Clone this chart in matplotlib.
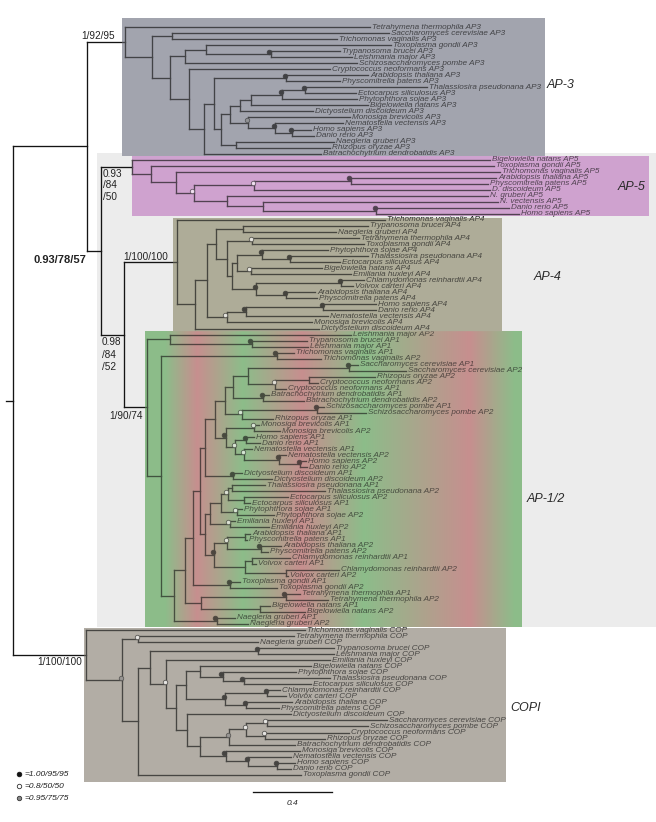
import numpy as np
import matplotlib
matplotlib.use("Agg")
import matplotlib.pyplot as plt
from matplotlib import font_manager, transforms
from matplotlib.collections import LineCollection
from matplotlib.patches import Rectangle

# ------------------------------------------------------------------ data
# clade trees (Newick, branch lengths in substitutions/site;
# internal node codes: K = 1.00/95/95, W = 0.8/50/50, G = 0.95/75/75)
AP3 = ("(Tetrahymena_thermophila_AP3:1.241,"
       "((Saccharomyces_cerevisiae_AP3:1.099,Trichomonas_vaginalis_AP3:0.835):0.101,"
       "(((Toxoplasma_gondii_AP3:0.937,(Trypanosoma_brucei_AP3:0.349,Leishmania_major_AP3:0.410)K:0.329):0.106,"
       "Schizosaccharomyces_pombe_AP3:0.871):0.076,"
       "(Cryptococcus_neoformans_AP3:0.714,"
       "(((Arabidopsis_thaliana_AP3:0.415,Physcomitrella_patens_AP3:0.273)K:0.365,"
       "((((((Thalassiosira_pseudonana_AP3:0.618,Ectocarpus_siliculosus_AP3:0.258)K:0.116,"
       "Phytophthora_sojae_AP3:0.380)K:0.157,Bigelowiella_natans_AP3:0.592):0.056,"
       "Dictyostelium_discoideum_AP3:0.370):0.051,"
       "(Monosiga_brevicolis_AP3:0.516,(Nematostella_vectensis_AP3:0.344,"
       "(Homo_sapiens_AP3:0.096,Danio_rerio_AP3:0.111)K:0.086)K:0.137)G:0.091):0.046,"
       "(Naegleria_gruberi_AP3:0.494,Rhizopus_oryzae_AP3:0.473):0.078):0.035):0.051,"
       "Batrachochytrium_dendrobatidis_AP3:0.595):0.076):0.096):0.091):0.137)|ap3")

AP5 = ("(Bigelowiella_natans_AP5:1.808,(Toxoplasma_gondii_AP5:1.735,(Trichomonas_vaginalis_AP5:1.643,"
       "(((Arabidopsis_thaliana_AP5:0.735,Physcomitrella_patens_AP5:0.693)K:0.489,D._discoideum_AP5:1.191)W:0.308,"
       "(N._gruberi_AP5:1.319,(N._vectensis_AP5:1.192,(Danio_rerio_AP5:0.671,Homo_sapiens_AP5:0.724)K:0.574):0.180):0.171)W:0.090"
       "):0.123):0.096)|ap5")

AP4 = ("(Trichomonas_vaginalis_AP4:1.053,"
       "((((Trypanosoma_brucei_AP4:0.633,Naegleria_gruberi_AP4:0.471):0.137,"
       "((Tetrahymena_thermophila_AP4:0.542,Toxoplasma_gondii_AP4:0.565)W:0.127,"
       "(((Phytophthora_sojae_AP4:0.334,(Thalassiosira_pseudonana_AP4:0.395,Ectocarpus_siliculosus_AP4:0.253)K:0.142)K:0.125,"
       "(Bigelowiella_natans_AP4:0.359,Emiliania_huxleyi_AP4:0.506)W:0.069):0.027,"
       "((Chlamydomonas_reinhardtii_AP4:0.114,Volvox_carteri_AP4:0.061)K:0.430,"
       "(Arabidopsis_thaliana_AP4:0.147,Physcomitrella_patens_AP4:0.157)K:0.152)K:0.122):0.025):0.056):0.046,"
       "(((Homo_sapiens_AP4:0.266,Danio_rerio_AP4:0.266)K:0.393,Nematostella_vectensis_AP4:0.416)K:0.095,"
       "Monosiga_brevicolis_AP4:0.430)W:0.101):0.063,"
       "Dictyostelium_discoideum_AP4:0.630):0.091)|ap4")

AP12 = ("((Leishmania_major_AP2:0.916,(Trypanosoma_brucei_AP1:0.278,Leishmania_major_AP1:0.284)K:0.415):0.116,"
        "((Trichomonas_vaginalis_AP1:0.086,Trichomonas_vaginalis_AP2:0.223)K:0.587,"
        "((((((((("
        "(Saccharomyces_cerevisiae_AP1:0.046,Saccharomyces_cerevisiae_AP2:0.289)K:0.511,"
        "((Rhizopus_oryzae_AP2:0.334,Cryptococcus_neoformans_AP2:0.046):0.172,Cryptococcus_neoformans_AP1:0.056)W:0.137):0.076,"
        "(Batrachochytrium_dendrobatidis_AP1:0.030,Batrachochytrium_dendrobatidis_AP2:0.208)K:0.152):0.041,"
        "((Schizosaccharomyces_pombe_AP1:0.035,Schizosaccharomyces_pombe_AP2:0.248)K:0.382,Rhizopus_oryzae_AP1:0.159)W:0.084):0.051,"
        "((Monosiga_brevicolis_AP1:0.025,Monosiga_brevicolis_AP2:0.132)W:0.144,"
        "((Homo_sapiens_AP1:0.041,Danio_rerio_AP1:0.071)K:0.056,"
        "(Nematostella_vectensis_AP1:0.041,(Nematostella_vectensis_AP2:0.035,(Homo_sapiens_AP2:0.030,Danio_rerio_AP2:0.035)K:0.106)K:0.177)W:0.046)W:0.048)K:0.054):0.051,"
        "(Dictyostelium_discoideum_AP1:0.046,Dictyostelium_discoideum_AP2:0.197)K:0.142):0.027,"
        "(((((Thalassiosira_pseudonana_AP1:0.167,Thalassiosira_pseudonana_AP2:0.471):0.020,"
        "(Ectocarpus_siliculosus_AP2:0.223,Ectocarpus_siliculosus_AP1:0.030):0.081)W:0.037,"
        "(Phytophthora_sojae_AP1:0.025,Phytophthora_sojae_AP2:0.187)W:0.083):0.054,"
        "(Emiliania_huxleyi_AP1:0.025,Emiliania_huxleyi_AP2:0.197)W:0.101):0.025,"
        "(((Arabidopsis_thaliana_AP1:0.025,Physcomitrella_patens_AP1:0.010):0.091,"
        "(Arabidopsis_thaliana_AP2:0.104,Physcomitrella_patens_AP2:0.038)K:0.170)W:0.066,"
        "((Chlamydomonas_reinhardtii_AP1:0.192,Volvox_carteri_AP1:0.020):0.035,"
        "(Chlamydomonas_reinhardtii_AP2:0.268,Volvox_carteri_AP2:0.010):0.208):0.157)K:0.046):0.027):0.033,"
        "(Toxoplasma_gondii_AP1:0.051,Toxoplasma_gondii_AP2:0.238)K:0.187):0.041,"
        "((Tetrahymena_thermophila_AP1:0.071,Tetrahymena_thermophila_AP2:0.213)K:0.430,"
        "(Bigelowiella_natans_AP1:0.048,Bigelowiella_natans_AP2:0.225):0.301):0.081):0.056,"
        "(Naegleria_gruberi_AP1:0.092,Naegleria_gruberi_AP2:0.158)K:0.217):0.066):0.071)|ap12")

COPI = ("(Trichomonas_vaginalis_COP:1.109,((Tetrahymena_thermophila_COP:0.790,Naegleria_gruberi_COP:0.610)W:0.081,"
        "(((Trypanosoma_brucei_COP:0.385,Leishmania_major_COP:0.385)K:0.545,(Emiliania_huxleyi_COP:0.830,"
        "(((Bigelowiella_natans_COP:0.564,(Phytophthora_sojae_COP:0.371,(Thalassiosira_pseudonana_COP:0.437,"
        "Ectocarpus_siliculosus_COP:0.341)K:0.106)K:0.117):0.069,((Chlamydomonas_reinhardtii_COP:0.066,"
        "Volvox_carteri_COP:0.096)K:0.213,(Arabidopsis_thaliana_COP:0.233,Physcomitrella_patens_COP:0.167)K:0.106)K:0.197):0.053,"
        "(Dictyostelium_discoideum_COP:0.527,((((Saccharomyces_cerevisiae_COP:0.607,Schizosaccharomyces_pombe_COP:0.512)W:0.106,"
        "(Cryptococcus_neoformans_COP:0.427,Rhizopus_oryzae_COP:0.305)W:0.096)W:0.085,"
        "Batrachochytrium_dendrobatidis_COP:0.334)G:0.149,(Monosiga_brevicolis_COP:0.377,"
        "(Nematostella_vectensis_COP:0.218,(Homo_sapiens_COP:0.091,Danio_rerio_COP:0.071)K:0.147)K:0.113)K:0.132):0.064):0.058):0.049)W:0.079):0.063,"
        "Toxoplasma_gondii_COP:0.825):0.081)G:0.182)|copi")

BACKBONE = "(({ap3}:0.192,({ap5}:0.159,({ap4}:0.266,{ap12}:0.116)|C:0.116)|B:0.071)|A:0.373,{copi}:0.368)|root;"

GROUP_NAMES = ["AP-3", "AP-5", "AP-4", "AP-1/2", "COPI"]
SUPPORT = {"ap3": ["1/92/95"], "B": ["0.93/78/57"], "ap5": ["0.93", "/84", "/50"],
           "ap4": ["1/100/100"], "C": ["0.98", "/84", "/52"], "ap12": ["1/90/74"],
           "copi": ["1/100/100"]}
LEGEND_CODES = ["K", "W", "G"]
LEGEND_TEXT = ["=1.00/95/95", "=0.8/50/50", "=0.95/75/75"]
SCALE_LEN = 0.4

# ------------------------------------------------------------------ helpers
def parse(s):
    s = s.strip().rstrip(";")
    pos = [0]

    def node():
        n = {"children": [], "name": "", "len": 0.0}
        if s[pos[0]] == "(":
            pos[0] += 1
            while True:
                n["children"].append(node())
                ch = s[pos[0]]
                pos[0] += 1
                if ch == ")":
                    break
        st = pos[0]
        while pos[0] < len(s) and s[pos[0]] not in ":,()":
            pos[0] += 1
        n["name"] = s[st:pos[0]]
        if pos[0] < len(s) and s[pos[0]] == ":":
            pos[0] += 1
            st = pos[0]
            while pos[0] < len(s) and s[pos[0]] not in ",()":
                pos[0] += 1
            n["len"] = float(s[st:pos[0]])
        return n
    return node()


def layout(n, x0, counter):
    n["x"] = x0 + n["len"]
    if not n["children"]:
        n["y"] = counter[0]
        counter[0] += 1
    else:
        for c in n["children"]:
            layout(c, n["x"], counter)
        n["y"] = 0.5 * (n["children"][0]["y"] + n["children"][-1]["y"])


segs, leaves, marks, tags = [], [], [], {}


def collect(n):
    if n["children"]:
        ys = [c["y"] for c in n["children"]]
        segs.append([(n["x"], min(ys)), (n["x"], max(ys))])
        for c in n["children"]:
            segs.append([(n["x"], c["y"]), (c["x"], c["y"])])
            collect(c)
        code, _, tag = n["name"].partition("|")
        if code:
            marks.append((code, n["x"], n["y"]))
        if tag:
            tags[tag] = n
    else:
        leaves.append((n["name"].replace("_", " "), n["x"], n["y"]))


tree = parse(BACKBONE.format(ap3=AP3, ap5=AP5, ap4=AP4, ap12=AP12, copi=COPI))
tree["len"] = 0.0
layout(tree, 0.0, [0])
collect(tree)

# pixel <-> data mapping of the figure
W, H = 656, 822
PX0, PXS = 13.4, 197.5          # root x (px) and px per unit
PY0, PYS = 27.0, 6.03           # first leaf y (px) and px per leaf


def X(px):
    return (px - PX0) / PXS


def Y(py):
    return (py - PY0) / PYS


avail = {f.name for f in font_manager.fontManager.ttflist}
if "Liberation Sans Narrow" in avail:
    LEAF_FAM, LEAF_SIZE = "Liberation Sans Narrow", 7.0
else:
    LEAF_FAM, LEAF_SIZE = "Liberation Sans", 5.9
plt.rcParams["font.family"] = ["Liberation Sans", "DejaVu Sans"]

fig = plt.figure(figsize=(W / 100, H / 100), dpi=100)
ax = fig.add_axes([0, 0, 1, 1])
ax.set_xlim(X(0), X(W))
ax.set_ylim(Y(H), Y(0))
ax.axis("off")

# ------------------------------------------------------------------ backgrounds
ax.add_patch(Rectangle((X(97), Y(153)), X(W + 5) - X(97), Y(627) - Y(153),
                       facecolor="#ececec", edgecolor="none", zorder=0))
boxes = [  # (x0px, x1px, y0px, y1px, colour)
    (122, 545, 18, 155.5, "#a2a4ae"),
    (132, 649, 155.5, 215.5, "#cfa2cf"),
    (173, 502, 217.5, 331.5, "#aeac98"),
    (84, 506, 627.5, 782, "#b2ada5"),
]
for x0, x1, y0, y1, col in boxes:
    for z, a in ((1, 1.0), (6, 0.33)):
        ax.add_patch(Rectangle((X(x0), Y(y0)), X(x1) - X(x0), Y(y1) - Y(y0),
                               facecolor=col, edgecolor="none", alpha=a, zorder=z))

G = np.array([0.55, 0.74, 0.54])
R = np.array([0.78, 0.56, 0.56])
stops = [145, 165, 197, 243, 302, 364, 470, 515, 522]
cols = [G, G, R, G, R, G, R, G, G]
px = np.linspace(145, 522, 700)
img = np.stack([np.interp(px, stops, [c[k] for c in cols]) for k in range(3)], axis=-1)[None, :, :]
for z, a in ((1, 1.0), (6, 0.38)):
    ax.imshow(img, extent=(X(145), X(522), Y(627.5), Y(332)), aspect="auto",
              interpolation="bilinear", alpha=a, zorder=z)

# ------------------------------------------------------------------ tree
ax.add_collection(LineCollection(segs, colors="#141414", linewidths=0.95,
                                 capstyle="projecting", zorder=3))
root = tree
ax.plot([X(6), root["x"]], [root["y"], root["y"]], color="#141414", lw=0.95, zorder=3)

lab_tr = transforms.offset_copy(ax.transData, fig=fig, x=2.0, y=0, units="dots")
for name, x, y in leaves:
    ax.text(x, y, name, transform=lab_tr, fontsize=LEAF_SIZE, family=LEAF_FAM,
            style="italic", ha="left", va="center", color="#141414", zorder=3)

mk_tr = transforms.offset_copy(ax.transData, fig=fig, x=-1.5, y=2.5, units="dots")
MSTYLE = {"K": dict(mfc="#111111", mec="#111111", ms=3.4, mew=0.5),
          "W": dict(mfc="white", mec="#333333", ms=3.2, mew=0.6),
          "G": dict(mfc="#8a8a8a", mec="#333333", ms=3.2, mew=0.6)}
for code, x, y in marks:
    ax.plot([x], [y], "o", transform=mk_tr, zorder=4, **MSTYLE[code])

# ------------------------------------------------------------------ support labels
SUP_POS = {  # dx px, dy px (down), ha, line step px, bold
    "ap3": (-10, -6, "right", 0, False),
    "B": (-15, 9, "right", 0, True),
    "ap5": (-29.4, 6.7, "left", 11.7, False),
    "ap4": (-8.5, -5, "right", 0, False),
    "C": (-22, 7.7, "left", 12.2, False),
    "ap12": (-4, 9, "right", 0, False),
    "copi": (-4, 7, "right", 0, False),
}
for tag, lines in SUPPORT.items():
    dx, dy, ha, step, bold = SUP_POS[tag]
    n = tags[tag]
    for i, t in enumerate(lines):
        tr = transforms.offset_copy(ax.transData, fig=fig, x=dx, y=-(dy + i * step), units="dots")
        ax.text(n["x"], n["y"], t, transform=tr, fontsize=8.0 if bold else 7.2,
                fontweight="bold" if bold else "normal", ha=ha, va="center",
                color="#222222", zorder=7)

# ------------------------------------------------------------------ group labels
GROUP_POS = [(547, 85, "left"), (646, 187, "right"), (534, 277, "left"),
             (527, 499, "left"), (510, 708, "left")]
for name, (gx, gy, ha) in zip(GROUP_NAMES, GROUP_POS):
    ax.text(X(gx), Y(gy), name, fontsize=9.0, style="italic", ha=ha, va="center",
            color="#2a2a2a", zorder=7)

# ------------------------------------------------------------------ legend
for i, (code, txt) in enumerate(zip(LEGEND_CODES, LEGEND_TEXT)):
    yy = Y(774 + 12 * i)
    ax.plot([X(19)], [yy], "o", zorder=7, **MSTYLE[code])
    ax.text(X(24), yy, txt, fontsize=6.0, style="italic", ha="left", va="center",
            color="#222222", zorder=7)

# ------------------------------------------------------------------ scale bar
sx0 = X(253)
ax.plot([sx0, sx0 + SCALE_LEN], [Y(792), Y(792)], color="#141414", lw=0.95, zorder=7)
ax.text(sx0 + SCALE_LEN / 2, Y(803.5), f"{SCALE_LEN}", fontsize=6.0, style="italic",
        ha="center", va="center", color="#222222", zorder=7)

fig.savefig("out.png", dpi=100)
